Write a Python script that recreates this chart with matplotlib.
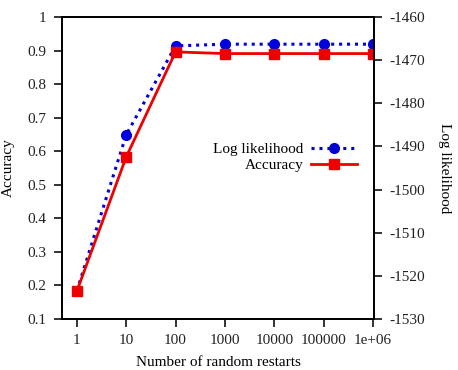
import matplotlib
matplotlib.use("Agg")
import matplotlib.pyplot as plt

# data
restarts = [1, 10, 100, 1000, 10000, 100000, 1000000]
xtick_labels = ["1", "10", "100", "1000", "10000", "100000", "1e+06"]
accuracy = [0.183, 0.583, 0.896, 0.891, 0.891, 0.891, 0.891]
loglik = [-1523.5, -1487.3, -1466.7, -1466.3, -1466.3, -1466.3, -1466.3]

plt.rcParams["font.family"] = ["Liberation Serif", "DejaVu Serif"]
plt.rcParams["font.size"] = 11
plt.rcParams["axes.unicode_minus"] = False

fig = plt.figure(figsize=(4.58, 3.70), dpi=100)
ax = fig.add_axes([62 / 458, 1 - 319 / 370, (374 - 62) / 458, (319 - 17) / 370])
ax2 = ax.twinx()
# accuracy drawn above the log likelihood line
ax.set_zorder(ax2.get_zorder() + 1)
ax.patch.set_visible(False)

l2, = ax2.plot(restarts, loglik, color="#0000dd", linestyle=(0, (1, 1.6)), linewidth=2.2,
               marker="o", markersize=7, label="Log likelihood")
l1, = ax.plot(restarts, accuracy, color="#ee0000", linewidth=2, marker="s", markersize=7,
              label="Accuracy")

ax.set_xscale("log")
ax.set_xlim(0.5, 1.05e6)
ax.set_xticks(restarts)
ax.set_xticklabels(xtick_labels)
ax.minorticks_off()
ax.set_ylim(0.1, 1.0)
ax.set_yticks([0.1, 0.2, 0.3, 0.4, 0.5, 0.6, 0.7, 0.8, 0.9, 1.0])
ax.set_yticklabels(["0.1", "0.2", "0.3", "0.4", "0.5", "0.6", "0.7", "0.8", "0.9", "1"])
ax2.set_ylim(-1530, -1460)
ax2.set_yticks(range(-1530, -1459, 10))
ax2.minorticks_off()

for a in (ax, ax2):
    a.tick_params(direction="out", length=6, width=1.3, colors="#222222", pad=5)
    for s in a.spines.values():
        s.set_linewidth(1.3)

ax.set_xlabel("Number of random restarts", labelpad=6)
ax.set_ylabel("Accuracy", labelpad=9)
ax2.set_ylabel("Log likelihood", rotation=-90, labelpad=19)

leg = ax.legend([l2, l1], ["Log likelihood", "Accuracy"], loc="center right",
                bbox_to_anchor=(0.965, 0.535), frameon=False, markerfirst=False,
                handlelength=3.0, handletextpad=0.5, labelspacing=0.15, borderaxespad=0)

fig.savefig("out.png", dpi=100)
